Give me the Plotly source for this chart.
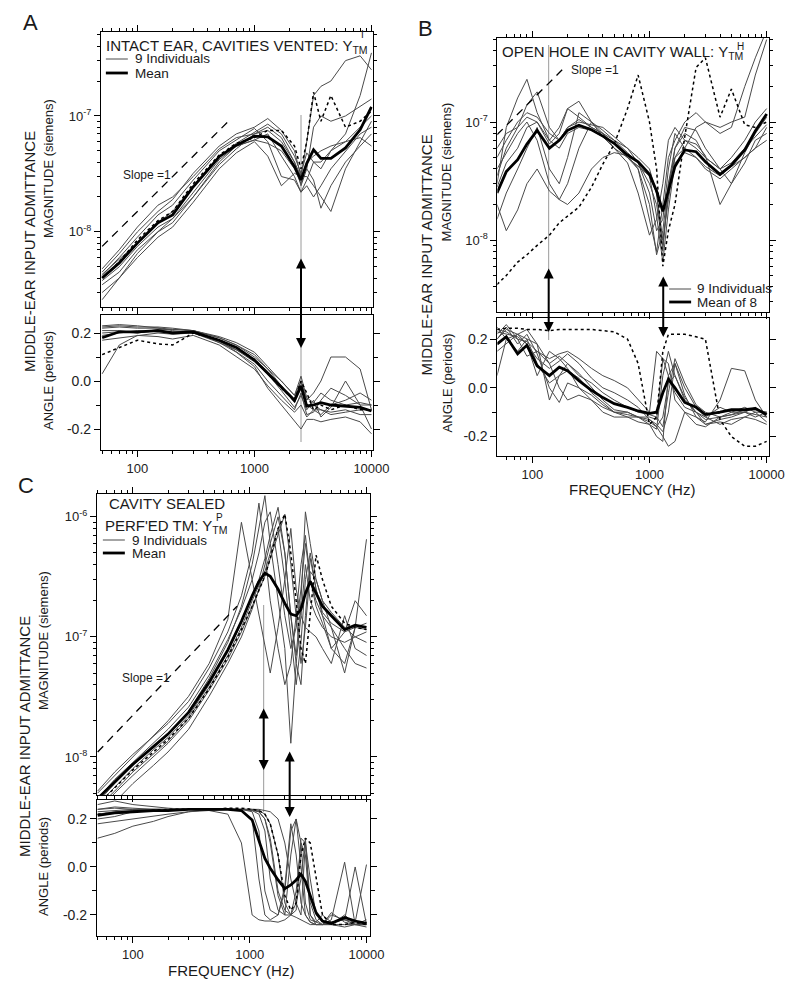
import math
import plotly.graph_objects as go

W, H = 800, 997
FONT = "Liberation Sans, Arial, Helvetica, sans-serif"

# ---------------- Panel A: intact ear, cavities vented ----------------
A_FREQ = [50, 70, 100, 150, 200, 300, 500, 700, 1000, 1300, 1700, 2200, 2500, 2800, 3200, 3700, 4500, 6000, 8000, 10000]
A_MAG_MEAN = [4.0e-9, 5.4e-9, 8.0e-9, 1.2e-8, 1.4e-8, 2.45e-8, 4.45e-8, 5.6e-8, 6.7e-8, 6.6e-8, 5.5e-8, 3.65e-8, 2.8e-8, 3.9e-8, 5.1e-8, 4.3e-8, 4.3e-8, 5.3e-8, 7.6e-8, 1.2e-7]
A_MAG_1 = [4.5e-9, 6.5e-9, 1.0e-8, 1.5e-8, 1.9e-8, 3.2e-8, 5.5e-8, 7.0e-8, 8.0e-8, 9.5e-8, 7.5e-8, 5.0e-8, 3.0e-8, 6.0e-8, 1.5e-7, 1.8e-7, 2.0e-7, 3.0e-7, 3.3e-7, 2.5e-7]
A_MAG_2 = [3.5e-9, 4.5e-9, 7.0e-9, 1.0e-8, 1.3e-8, 2.0e-8, 3.8e-8, 5.2e-8, 7.0e-8, 8.0e-8, 6.5e-8, 4.0e-8, 2.5e-8, 3.5e-8, 8.0e-8, 1.0e-7, 9.0e-8, 1.0e-7, 1.2e-7, 1.4e-7]
A_MAG_3 = [4.2e-9, 6.0e-9, 9.0e-9, 1.4e-8, 1.7e-8, 2.8e-8, 5.0e-8, 6.2e-8, 7.8e-8, 6.0e-8, 3.0e-8, 2.8e-8, 2.2e-8, 2.8e-8, 4.0e-8, 4.0e-8, 5.0e-8, 7.0e-8, 1.5e-7, 3.5e-7]
A_MAG_4 = [3.0e-9, 4.0e-9, 6.0e-9, 9.0e-9, 1.1e-8, 1.8e-8, 3.5e-8, 4.8e-8, 6.0e-8, 4.5e-8, 2.5e-8, 3.2e-8, 3.0e-8, 3.0e-8, 2.5e-8, 2.0e-8, 1.5e-8, 3.5e-8, 6.0e-8, 9.0e-8]
A_MAG_5 = [4.8e-9, 7.0e-9, 1.1e-8, 1.7e-8, 2.0e-8, 3.0e-8, 5.2e-8, 6.5e-8, 7.0e-8, 7.5e-8, 6.0e-8, 4.0e-8, 3.0e-8, 3.5e-8, 2.8e-8, 1.6e-8, 2.5e-8, 4.0e-8, 5.5e-8, 7.0e-8]
A_MAG_6 = [3.8e-9, 5.0e-9, 7.5e-9, 1.1e-8, 1.3e-8, 2.2e-8, 4.2e-8, 5.5e-8, 6.2e-8, 5.8e-8, 5.0e-8, 3.5e-8, 2.6e-8, 4.0e-8, 4.5e-8, 5.0e-8, 5.5e-8, 6.0e-8, 6.5e-8, 5.5e-8]
A_MAG_7 = [4.3e-9, 5.8e-9, 8.0e-9, 1.2e-8, 1.5e-8, 2.5e-8, 4.5e-8, 5.8e-8, 7.2e-8, 8.5e-8, 7.0e-8, 4.5e-8, 3.2e-8, 4.8e-8, 4.0e-8, 3.5e-8, 5.0e-8, 6.0e-8, 8.0e-8, 1.0e-7]
A_MAG_8 = [2.6e-9, 4.0e-9, 6.5e-9, 1.0e-8, 1.2e-8, 2.0e-8, 4.0e-8, 5.5e-8, 6.2e-8, 7.0e-8, 4.5e-8, 3.0e-8, 2.2e-8, 2.5e-8, 2.0e-8, 2.5e-8, 3.5e-8, 5.0e-8, 7.0e-8, 8.0e-8]
A_MAG_DOT = [4.0e-9, 5.5e-9, 8.5e-9, 1.25e-8, 1.5e-8, 2.6e-8, 4.6e-8, 5.8e-8, 6.5e-8, 7.5e-8, 7.5e-8, 5.5e-8, 3.5e-8, 6.0e-8, 1.6e-7, 9.0e-8, 1.5e-7, 8.0e-8, 9.0e-8, 1.1e-7]

A_ANG_MEAN = [0.18, 0.205, 0.205, 0.21, 0.2, 0.205, 0.17, 0.14, 0.0875, 0.033, -0.024, -0.08, -0.02, -0.105, -0.1, -0.09, -0.1, -0.105, -0.11, -0.125]
A_ANG_1 = [0.23, 0.235, 0.23, 0.22, 0.215, 0.21, 0.185, 0.16, 0.12, 0.06, 0.0, -0.06, 0.0, -0.08, -0.05, 0.0, 0.1, 0.1, 0.05, -0.12]
A_ANG_2 = [0.22, 0.225, 0.22, 0.22, 0.21, 0.2, 0.17, 0.12, 0.07, 0.0, -0.06, -0.12, -0.05, -0.14, -0.13, -0.08, -0.03, -0.06, -0.1, -0.1]
A_ANG_3 = [0.03, 0.15, 0.19, 0.185, 0.175, 0.19, 0.15, 0.1, 0.05, -0.02, -0.08, -0.13, -0.1, -0.15, -0.12, -0.12, -0.14, -0.13, -0.12, -0.12]
A_ANG_4 = [0.2, 0.205, 0.2, 0.215, 0.215, 0.21, 0.18, 0.15, 0.11, 0.05, -0.02, -0.09, 0.0, -0.1, -0.12, -0.14, -0.1, -0.08, -0.05, -0.08]
A_ANG_5 = [0.17, 0.18, 0.19, 0.2, 0.195, 0.2, 0.165, 0.13, 0.08, 0.03, -0.04, -0.11, -0.06, -0.12, -0.08, -0.15, -0.11, 0.0, -0.1, -0.2]
A_ANG_6 = [0.225, 0.23, 0.225, 0.225, 0.22, 0.21, 0.16, 0.12, 0.06, -0.03, -0.1, -0.17, -0.2, -0.16, -0.16, -0.17, -0.16, -0.15, -0.17, -0.22]
A_ANG_7 = [0.19, 0.2, 0.21, 0.205, 0.2, 0.21, 0.18, 0.15, 0.1, 0.05, 0.0, -0.06, 0.02, -0.07, -0.09, -0.05, -0.08, -0.1, -0.09, -0.1]
A_ANG_8 = [0.21, 0.21, 0.2, 0.21, 0.205, 0.2, 0.16, 0.13, 0.09, 0.04, -0.02, -0.09, -0.03, -0.1, -0.1, -0.12, -0.13, -0.12, -0.14, -0.14]
A_ANG_DOT = [0.11, 0.14, 0.17, 0.155, 0.15, 0.2, 0.17, 0.14, 0.09, 0.03, -0.03, -0.08, 0.0, -0.05, -0.12, -0.1, -0.12, -0.1, -0.12, -0.12]

A_SLOPE_F = [50, 630]
A_SLOPE_Y = [7.5e-9, 9.45e-8]

# ---------------- Panel B: open hole in cavity wall ----------------
B_FREQ = [50, 60, 75, 90, 110, 140, 170, 200, 250, 320, 400, 500, 650, 800, 1000, 1150, 1300, 1450, 1650, 2000, 2500, 3000, 4000, 5000, 6500, 8000, 10000]
B_MAG_MEAN = [2.5e-8, 3.8e-8, 4.8e-8, 6.5e-8, 8.5e-8, 6.0e-8, 7.0e-8, 8.5e-8, 9.4e-8, 8.6e-8, 7.6e-8, 6.6e-8, 5.25e-8, 4.6e-8, 3.6e-8, 2.6e-8, 1.75e-8, 2.6e-8, 4.2e-8, 5.8e-8, 5.6e-8, 4.6e-8, 3.6e-8, 4.3e-8, 5.8e-8, 8.4e-8, 1.17e-7]
B_MAG_1 = [3e-8, 9e-8, 1.6e-7, 2.3e-7, 1.2e-7, 7e-8, 9e-8, 1.3e-7, 1.1e-7, 9e-8, 8e-8, 7e-8, 5.5e-8, 4.5e-8, 3e-8, 2e-8, 9e-9, 2.5e-8, 6e-8, 8e-8, 7e-8, 5e-8, 4e-8, 5e-8, 7e-8, 1.0e-7, 1.3e-7]
B_MAG_2 = [5e-8, 7e-8, 1.0e-7, 1.2e-7, 1.1e-7, 8e-8, 7e-8, 9e-8, 1.0e-7, 9.5e-8, 9e-8, 7.5e-8, 6e-8, 5e-8, 4e-8, 2.5e-8, 8e-9, 3e-8, 5e-8, 6e-8, 9e-8, 1.0e-7, 9e-8, 1.0e-7, 1.1e-7, 2.5e-7, 5e-7]
B_MAG_3 = [1.5e-8, 2.5e-8, 4e-8, 6e-8, 9e-8, 4e-8, 3e-8, 5e-8, 1.2e-7, 1.0e-7, 7.5e-8, 6e-8, 5e-8, 4.2e-8, 3.5e-8, 1.6e-8, 6.5e-9, 1.8e-8, 4.5e-8, 5.5e-8, 5e-8, 4e-8, 3.3e-8, 4e-8, 5e-8, 6e-8, 9e-8]
B_MAG_4 = [2e-8, 1.2e-8, 1.8e-8, 3e-8, 4e-8, 2.6e-8, 2.2e-8, 3e-8, 6e-8, 1.0e-7, 8.5e-8, 7e-8, 6e-8, 4.5e-8, 2.5e-8, 1.2e-8, 1.5e-8, 4e-8, 8e-8, 6e-8, 5e-8, 4.2e-8, 3.5e-8, 4.2e-8, 5e-8, 6e-8, 7e-8]
B_MAG_5 = [2.8e-8, 4.5e-8, 6e-8, 9e-8, 1.0e-7, 6.5e-8, 8e-8, 1.3e-7, 1.5e-7, 1.0e-7, 8e-8, 6.5e-8, 5e-8, 4e-8, 2e-8, 7.5e-9, 1.2e-8, 3e-8, 6e-8, 9e-8, 8.5e-8, 6e-8, 4e-8, 3e-8, 4.5e-8, 7e-8, 8e-8]
B_MAG_6 = [4e-8, 5.5e-8, 8e-8, 1.0e-7, 7e-8, 3e-8, 2.2e-8, 2.0e-8, 2.5e-8, 4e-8, 5e-8, 5.5e-8, 5.2e-8, 4e-8, 1.5e-8, 8e-9, 2e-8, 5e-8, 7e-8, 1.0e-7, 1.2e-7, 1.0e-7, 8e-8, 9e-8, 2e-7, 3.5e-7, 6e-7]
B_MAG_7 = [3.5e-8, 6e-8, 9e-8, 1.4e-7, 1.8e-7, 9e-8, 7e-8, 9e-8, 1.05e-7, 9e-8, 8e-8, 6e-8, 4.5e-8, 2.5e-8, 1.1e-8, 1.5e-8, 3e-8, 7e-8, 9e-8, 7e-8, 6e-8, 5e-8, 4e-8, 4.5e-8, 6e-8, 7.5e-8, 9.5e-8]
B_MAG_8 = [6e-8, 8e-8, 9e-8, 1.1e-7, 1.0e-7, 7e-8, 6e-8, 8e-8, 9e-8, 8.5e-8, 7.5e-8, 6.5e-8, 5e-8, 4.2e-8, 3.5e-8, 2.5e-8, 1.0e-8, 2.2e-8, 5e-8, 7e-8, 6.5e-8, 5.2e-8, 2e-8, 3e-8, 5.5e-8, 8e-8, 1.1e-7]
B_MAG_DOT = [4.2e-9, 5.0e-9, 6.5e-9, 7.5e-9, 9e-9, 1.1e-8, 1.4e-8, 1.6e-8, 1.9e-8, 2.8e-8, 4.4e-8, 6.5e-8, 1.3e-7, 2.5e-7, 1.0e-7, 4e-8, 6e-9, 1.2e-8, 2e-8, 7.5e-8, 2.9e-7, 3.5e-7, 1.1e-7, 1.9e-7, 9.5e-8, 9e-8, 1.0e-7]

B_ANG_MEAN = [0.18, 0.21, 0.14, 0.175, 0.09, 0.05, 0.085, 0.07, 0.03, -0.01, -0.04, -0.065, -0.08, -0.095, -0.105, -0.1, -0.02, 0.035, 0.0, -0.06, -0.08, -0.11, -0.1, -0.09, -0.09, -0.085, -0.11]
B_ANG_1 = [0.25, 0.2, 0.15, 0.2, 0.1, 0.02, 0.05, 0.1, 0.06, 0.0, -0.05, -0.09, -0.1, -0.12, -0.15, -0.17, 0.05, 0.15, 0.05, -0.05, -0.1, -0.13, -0.12, -0.1, -0.1, -0.08, -0.12]
B_ANG_2 = [0.22, 0.26, 0.2, 0.13, 0.15, 0.12, 0.14, 0.15, 0.12, 0.08, 0.05, 0.03, 0.0, -0.05, -0.1, 0.15, 0.12, 0.05, -0.02, -0.08, -0.1, -0.12, -0.15, -0.13, -0.12, -0.1, -0.1]
B_ANG_3 = [0.05, 0.2, 0.22, 0.18, 0.05, 0.15, 0.12, 0.08, 0.0, -0.05, -0.08, -0.1, -0.12, -0.14, -0.15, -0.2, -0.22, 0.05, 0.1, -0.03, -0.12, -0.14, -0.05, 0.08, 0.07, -0.05, -0.12]
B_ANG_4 = [0.2, 0.24, 0.22, 0.2, 0.18, 0.1, 0.0, -0.05, -0.03, -0.05, -0.1, -0.12, -0.12, -0.12, -0.13, -0.16, -0.2, -0.24, -0.22, -0.1, -0.12, -0.15, -0.14, -0.15, -0.12, -0.13, -0.15]
B_ANG_5 = [0.15, 0.18, 0.22, 0.24, 0.18, -0.05, 0.05, 0.07, 0.04, -0.02, -0.06, -0.1, -0.1, -0.12, -0.12, -0.13, 0.12, 0.1, -0.05, -0.1, -0.15, -0.16, -0.12, -0.11, -0.1, -0.12, -0.1]
B_ANG_6 = [0.23, 0.22, 0.21, 0.18, 0.12, 0.08, 0.11, 0.14, 0.1, 0.04, 0.0, -0.02, -0.05, -0.08, -0.13, -0.15, -0.18, -0.1, 0.1, 0.0, -0.08, -0.12, -0.08, -0.1, -0.08, -0.1, -0.14]
B_ANG_7 = [0.2, 0.25, 0.18, 0.22, 0.14, 0.0, -0.06, 0.02, 0.0, -0.03, -0.07, -0.1, -0.11, -0.12, -0.14, -0.16, -0.12, 0.02, 0.05, -0.04, -0.1, -0.15, -0.13, -0.12, -0.1, -0.11, -0.12]
B_ANG_8 = [0.24, 0.23, 0.2, 0.19, 0.15, 0.1, 0.13, 0.1, 0.05, 0.02, -0.02, -0.05, -0.08, -0.1, -0.11, -0.12, -0.16, -0.02, 0.12, 0.02, -0.07, -0.1, -0.12, -0.11, -0.09, -0.09, -0.1]
B_ANG_DOT = [0.24, 0.245, 0.245, 0.24, 0.24, 0.235, 0.24, 0.24, 0.24, 0.24, 0.235, 0.23, 0.2, 0.1, -0.15, -0.12, 0.15, 0.22, 0.22, 0.22, 0.21, 0.2, -0.13, -0.2, -0.24, -0.24, -0.22]

B_SLOPE_F = [50, 195]
B_SLOPE_Y = [7.8e-8, 3.0e-7]

# ---------------- Panel C: cavity sealed, perforated TM ----------------
C_FREQ = [50, 70, 100, 150, 200, 300, 450, 650, 850, 1050, 1200, 1350, 1500, 1750, 2000, 2250, 2500, 2750, 3000, 3300, 3700, 4200, 5000, 6500, 8000, 10000]
C_MAG_MEAN = [4.5e-9, 6.2e-9, 8.7e-9, 1.22e-8, 1.55e-8, 2.35e-8, 4.2e-8, 7.8e-8, 1.35e-7, 2.2e-7, 2.9e-7, 3.4e-7, 3.2e-7, 2.5e-7, 1.9e-7, 1.55e-7, 1.5e-7, 1.7e-7, 2.3e-7, 2.9e-7, 2.3e-7, 1.8e-7, 1.5e-7, 1.15e-7, 1.25e-7, 1.2e-7]
C_MAG_1 = [5e-9, 7e-9, 1.0e-8, 1.5e-8, 2.0e-8, 3.2e-8, 6e-8, 1.4e-7, 9e-7, 3e-7, 1.5e-7, 8e-8, 5e-8, 1.2e-7, 3e-7, 8e-7, 2.5e-7, 1.5e-7, 1.2e-7, 1.1e-7, 1.0e-7, 8e-8, 6e-8, 1.5e-7, 8e-8, 7e-8]
C_MAG_2 = [4.2e-9, 6e-9, 8.5e-9, 1.2e-8, 1.55e-8, 2.4e-8, 4.5e-8, 9e-8, 1.8e-7, 4e-7, 8e-7, 1.5e-6, 6e-7, 2e-7, 8e-8, 1.3e-8, 6e-8, 1.5e-7, 4e-7, 2e-7, 1.5e-7, 1.2e-7, 1e-7, 9e-8, 1e-7, 1.1e-7]
C_MAG_3 = [4.5e-9, 6.5e-9, 9e-9, 1.3e-8, 1.7e-8, 2.6e-8, 4.8e-8, 9.5e-8, 1.7e-7, 3e-7, 5e-7, 9e-7, 1.1e-6, 4e-7, 1.5e-7, 8e-8, 1.2e-7, 2.5e-7, 6e-7, 3e-7, 2e-7, 1.5e-7, 1.2e-7, 5e-8, 1.2e-7, 1.3e-7]
C_MAG_4 = [4e-9, 5.6e-9, 8e-9, 1.15e-8, 1.45e-8, 2.2e-8, 4e-8, 7.5e-8, 1.3e-7, 2.2e-7, 3e-7, 4.5e-7, 7e-7, 1.2e-6, 5e-7, 1.5e-7, 6e-8, 4e-8, 1.5e-7, 4.5e-7, 2.5e-7, 1.6e-7, 1.3e-7, 1.1e-7, 1.2e-7, 1.15e-7]
C_MAG_5 = [3.5e-9, 5e-9, 7e-9, 1.0e-8, 1.3e-8, 2e-8, 3.6e-8, 6.5e-8, 1.1e-7, 1.8e-7, 2.4e-7, 3.2e-7, 4.5e-7, 7e-7, 1.05e-6, 4e-7, 1.5e-7, 6e-8, 1.2e-7, 3.5e-7, 3e-7, 2e-7, 1.6e-7, 1.2e-7, 1.0e-7, 9e-8]
C_MAG_6 = [3.0e-9, 4.2e-9, 6e-9, 8.5e-9, 1.1e-8, 1.7e-8, 3.2e-8, 6e-8, 1.0e-7, 1.7e-7, 2.5e-7, 4e-7, 6e-7, 1.0e-6, 5e-7, 1.5e-7, 7e-8, 2e-7, 1.1e-6, 6e-7, 3e-7, 2e-7, 1.2e-7, 8e-8, 6e-8, 5.5e-8]
C_MAG_7 = [5.2e-9, 7.5e-9, 1.05e-8, 1.5e-8, 1.9e-8, 2.9e-8, 5.5e-8, 1.1e-7, 2.2e-7, 5e-7, 1.3e-6, 5e-7, 2e-7, 8e-8, 4e-8, 6e-8, 1.5e-7, 4e-7, 7e-7, 3e-7, 1.8e-7, 1.3e-7, 8e-8, 1.1e-7, 2e-7, 1.5e-7]
C_MAG_8 = [3.8e-9, 5.2e-9, 7.5e-9, 1.05e-8, 1.35e-8, 2.1e-8, 3.8e-8, 7e-8, 1.2e-7, 2e-7, 2.7e-7, 3.5e-7, 5e-7, 8e-7, 3e-7, 1e-7, 4e-8, 9e-8, 3e-7, 5e-7, 2.5e-7, 1.5e-7, 8e-8, 6e-8, 1.2e-7, 6.5e-7]
C_MAG_DOT = [4e-9, 5.5e-9, 7.8e-9, 1.1e-8, 1.4e-8, 2.1e-8, 3.7e-8, 6.8e-8, 1.15e-7, 1.8e-7, 2.4e-7, 3.2e-7, 4.5e-7, 8e-7, 1.05e-6, 5e-7, 2e-7, 8e-8, 6e-8, 1.5e-7, 4.8e-7, 3e-7, 1.8e-7, 1.3e-7, 1.2e-7, 1.15e-7]

C_ANG_MEAN = [0.215, 0.225, 0.23, 0.235, 0.235, 0.24, 0.24, 0.24, 0.235, 0.196, 0.11, 0.036, -0.005, -0.054, -0.09, -0.075, -0.054, -0.03, -0.06, -0.12, -0.19, -0.225, -0.235, -0.21, -0.225, -0.235]
C_ANG_1 = [0.24, 0.245, 0.24, 0.24, 0.24, 0.24, 0.235, 0.22, 0.1, -0.2, -0.22, -0.225, -0.225, -0.23, -0.22, -0.2, -0.21, -0.22, -0.23, -0.24, -0.24, -0.24, -0.24, -0.2, -0.24, -0.24]
C_ANG_2 = [0.2, 0.21, 0.23, 0.235, 0.24, 0.24, 0.24, 0.24, 0.24, 0.23, 0.15, -0.1, -0.18, -0.2, -0.1, 0.15, 0.2, 0.0, -0.2, -0.23, -0.24, -0.24, -0.23, -0.22, -0.24, -0.24]
C_ANG_3 = [0.12, 0.14, 0.17, 0.19, 0.21, 0.23, 0.24, 0.24, 0.24, 0.235, 0.22, 0.15, -0.05, -0.18, -0.2, 0.05, 0.2, 0.1, -0.15, -0.22, -0.23, -0.24, -0.2, -0.22, 0.0, -0.24]
C_ANG_4 = [0.24, 0.25, 0.245, 0.24, 0.24, 0.24, 0.24, 0.24, 0.24, 0.24, 0.23, 0.2, 0.12, -0.1, -0.18, -0.2, -0.1, 0.1, 0.05, -0.2, -0.24, -0.24, -0.19, -0.23, -0.24, -0.23]
C_ANG_5 = [0.18, 0.19, 0.2, 0.21, 0.22, 0.23, 0.235, 0.24, 0.24, 0.24, 0.235, 0.22, 0.18, 0.05, -0.15, -0.2, -0.18, 0.12, 0.1, -0.15, -0.22, -0.24, -0.24, -0.25, -0.24, -0.24]
C_ANG_6 = [0.26, 0.275, 0.26, 0.25, 0.245, 0.24, 0.24, 0.24, 0.24, 0.24, 0.24, 0.235, 0.23, 0.2, 0.1, -0.05, -0.15, -0.2, 0.1, -0.05, -0.2, -0.23, -0.24, -0.24, -0.24, -0.25]
C_ANG_7 = [0.22, 0.23, 0.235, 0.24, 0.24, 0.24, 0.24, 0.24, 0.235, 0.2, -0.05, -0.2, -0.22, -0.2, -0.08, 0.18, 0.05, -0.15, -0.2, -0.23, -0.24, -0.24, -0.22, 0.02, -0.24, -0.22]
C_ANG_8 = [0.23, 0.235, 0.24, 0.24, 0.24, 0.24, 0.24, 0.24, 0.24, 0.235, 0.23, 0.2, 0.1, -0.12, -0.2, -0.2, -0.15, -0.05, 0.12, -0.2, -0.23, -0.2, -0.23, -0.22, -0.23, 0.01]
C_ANG_DOT = [0.22, 0.225, 0.23, 0.235, 0.24, 0.24, 0.24, 0.245, 0.245, 0.24, 0.235, 0.22, 0.18, 0.05, -0.12, -0.18, -0.15, 0.05, 0.12, 0.1, -0.05, -0.2, -0.24, -0.24, -0.23, -0.24]

C_SLOPE_F = [50, 780]
C_SLOPE_Y = [1.1e-8, 1.8e-7]

# axis tick labels
X_TICKS = [100, 1000, 10000]
X_TICKTEXT = ["100", "1000", "10000"]
ANG_TICKS = [-0.2, 0.0, 0.2]
ANG_TICKTEXT = ["-0.2", "0.0", "0.2"]

# ---------------- helpers ----------------
# The photographed page comes out ~2% narrower horizontally than the figure,
# so horizontal layout positions are expressed against an effective width.
XW = 784.0

def px(x):
    return x / XW

def py(y):
    return 1 - y / H

X_MINOR = [m * 10 ** k for k in (1, 2, 3) for m in range(2, 10) if m * 10 ** k >= 50]

def y_minor(lo, hi):
    return [m * 10.0 ** k for k in range(lo, hi) for m in range(2, 10)]

GRAY = "#4a4a4a"
fig = go.Figure()

def add_lines(xa, ya, freq, singles, dotted, mean):
    for s in singles:
        fig.add_trace(go.Scatter(x=freq, y=s, mode="lines", xaxis=xa, yaxis=ya,
                                 line=dict(color=GRAY, width=1), showlegend=False, hoverinfo="skip"))
    fig.add_trace(go.Scatter(x=freq, y=dotted, mode="lines", xaxis=xa, yaxis=ya,
                             line=dict(color="black", width=1.5, dash="3px,3px"), showlegend=False, hoverinfo="skip"))
    fig.add_trace(go.Scatter(x=freq, y=mean, mode="lines", xaxis=xa, yaxis=ya,
                             line=dict(color="black", width=2.8), showlegend=False, hoverinfo="skip"))

def add_slope(xa, ya, f, y):
    fig.add_trace(go.Scatter(x=f, y=y, mode="lines", xaxis=xa, yaxis=ya,
                             line=dict(color="black", width=1.3, dash="8px,6px"), showlegend=False, hoverinfo="skip"))

# Panel A
add_lines("x", "y", A_FREQ, [A_MAG_1, A_MAG_2, A_MAG_3, A_MAG_4, A_MAG_5, A_MAG_6, A_MAG_7, A_MAG_8], A_MAG_DOT, A_MAG_MEAN)
add_slope("x", "y", A_SLOPE_F, A_SLOPE_Y)
add_lines("x2", "y2", A_FREQ, [A_ANG_1, A_ANG_2, A_ANG_3, A_ANG_4, A_ANG_5, A_ANG_6, A_ANG_7, A_ANG_8], A_ANG_DOT, A_ANG_MEAN)
# Panel B
add_lines("x3", "y3", B_FREQ, [B_MAG_1, B_MAG_2, B_MAG_3, B_MAG_4, B_MAG_5, B_MAG_6, B_MAG_7, B_MAG_8], B_MAG_DOT, B_MAG_MEAN)
add_slope("x3", "y3", B_SLOPE_F, B_SLOPE_Y)
add_lines("x4", "y4", B_FREQ, [B_ANG_1, B_ANG_2, B_ANG_3, B_ANG_4, B_ANG_5, B_ANG_6, B_ANG_7, B_ANG_8], B_ANG_DOT, B_ANG_MEAN)
# Panel C
add_lines("x5", "y5", C_FREQ, [C_MAG_1, C_MAG_2, C_MAG_3, C_MAG_4, C_MAG_5, C_MAG_6, C_MAG_7, C_MAG_8], C_MAG_DOT, C_MAG_MEAN)
add_slope("x5", "y5", C_SLOPE_F, C_SLOPE_Y)
add_lines("x6", "y6", C_FREQ, [C_ANG_1, C_ANG_2, C_ANG_3, C_ANG_4, C_ANG_5, C_ANG_6, C_ANG_7, C_ANG_8], C_ANG_DOT, C_ANG_MEAN)

TICKFONT = dict(family=FONT, size=13, color="#222")

def xaxis(x0, x1, rng, anchor, labels):
    return dict(type="log", domain=[px(x0), px(x1)], range=rng, anchor=anchor,
                showline=True, linecolor="black", linewidth=1,
                mirror=True if labels else "ticks",
                ticks="outside", ticklen=6, tickcolor="black", tickwidth=1,
                tickvals=X_TICKS, ticktext=X_TICKTEXT, showticklabels=labels,
                tickfont=TICKFONT, showgrid=False, zeroline=False,
                minor=dict(tickvals=X_MINOR, ticks="outside", ticklen=3, tickcolor="black", showgrid=False))

def ymag(y0, y1, rng, anchor, majors, texts, mlo, mhi):
    return dict(type="log", domain=[py(y1), py(y0)], range=rng, anchor=anchor,
                showline=True, linecolor="black", linewidth=1, mirror="ticks",
                ticks="outside", ticklen=6, tickcolor="black",
                tickvals=majors, ticktext=texts, tickfont=TICKFONT,
                showgrid=False, zeroline=False,
                minor=dict(tickvals=y_minor(mlo, mhi), ticks="outside", ticklen=3, tickcolor="black", showgrid=False))

def yang(y0, y1, rng, anchor):
    return dict(domain=[py(y1), py(y0)], range=rng, anchor=anchor,
                showline=True, linecolor="black", linewidth=1, mirror="ticks",
                ticks="outside", ticklen=6, tickcolor="black",
                tickvals=ANG_TICKS, ticktext=ANG_TICKTEXT, tickfont=dict(family=FONT, size=14, color="#222"),
                showgrid=False, zeroline=False,
                minor=dict(tickvals=[-0.1, 0.1], ticks="outside", ticklen=4, tickcolor="black", showgrid=False))

fig.update_layout(
    width=W, height=H, margin=dict(l=0, r=0, t=0, b=0),
    paper_bgcolor="white", plot_bgcolor="white", showlegend=False,
    font=dict(family=FONT, color="#222"),
    xaxis=xaxis(101, 373, [1.688, 4.009], "y", False),
    yaxis=ymag(32, 307, [-8.648, -6.276], "x", [1e-8, 1e-7], ["10<sup>-8</sup>", "10<sup>-7</sup>"], -9, -6),
    xaxis2=xaxis(101, 373, [1.688, 4.009], "y2", True),
    yaxis2=yang(315, 450, [-0.2875, 0.275], "x2"),
    xaxis3=xaxis(498, 770, [1.702, 4.02], "y3", False),
    yaxis3=ymag(38, 312, [-8.61, -6.288], "x3", [1e-8, 1e-7], ["10<sup>-8</sup>", "10<sup>-7</sup>"], -9, -6),
    xaxis4=xaxis(498, 770, [1.702, 4.02], "y4", True),
    yaxis4=yang(318, 456, [-0.28, 0.287], "x4"),
    xaxis5=xaxis(97, 370, [1.692, 4.026], "y5", False),
    yaxis5=ymag(494, 795, [-8.317, -5.81], "x5", [1e-8, 1e-7, 1e-6], ["10<sup>-8</sup>", "10<sup>-7</sup>", "10<sup>-6</sup>"], -9, -5),
    xaxis6=xaxis(97, 370, [1.692, 4.026], "y6", True),
    yaxis6=yang(800, 936, [-0.2875, 0.279], "x6"),
)

# vertical marker lines (thin gray)
def vline(xref, f, ytop, ybot):
    fig.add_shape(type="line", xref=xref, yref="paper", x0=f, x1=f, y0=py(ytop), y1=py(ybot),
                  line=dict(color="#9a9a9a", width=1), layer="below")

vline("x", 2500, 115, 442)
vline("x3", 138, 45, 340)
vline("x5", 1318, 605, 812)

# double-headed arrows
def arrow(xref, f, ytop, ybot):
    fig.add_annotation(x=math.log10(f), xref=xref, y=py(ybot), yref="paper",
                       ax=0, ay=-(ybot - ytop), axref="pixel", ayref="pixel", text="",
                       showarrow=True, arrowhead=2, startarrowhead=2, arrowside="end+start",
                       arrowwidth=2, arrowsize=1, startarrowsize=1, arrowcolor="black",
                       standoff=0, startstandoff=0)

arrow("x", 2500, 257, 348)
arrow("x3", 138, 267, 332)
arrow("x3", 1310, 275, 337)
arrow("x5", 1318, 707, 770)
arrow("x5", 2200, 750, 817)

def text(x, y, s, size, anchor="left", angle=0, color="#1a1a1a"):
    fig.add_annotation(x=px(x), y=py(y), xref="paper", yref="paper", text=s, showarrow=False,
                       xanchor=anchor, yanchor="middle", textangle=angle,
                       font=dict(family=FONT, size=size, color=color))

# panel letters
text(31, 23, "A", 22, "center")
text(426, 28, "B", 22, "center")
text(26, 485, "C", 22, "center")

# titles (superscript letter stacked above the TM subscript)
text(104, 46, "INTACT EAR, CAVITIES VENTED: Y<sub>TM</sub>", 15)
text(363, 34, "I", 10, "center")
text(501, 53, "OPEN HOLE IN CAVITY WALL: Y<sub>TM</sub>", 15)
text(741, 47, "H", 10, "center")
text(107, 503, "CAVITY SEALED", 15)
text(103, 526, "PERF'ED TM: Y<sub>TM</sub>", 15)
text(220, 517, "P", 10, "center")

# legends
def legend_line(x0, x1, y, width, color):
    fig.add_shape(type="line", xref="paper", yref="paper", x0=px(x0), x1=px(x1), y0=py(y), y1=py(y),
                  line=dict(color=color, width=width))

legend_line(106, 128, 59, 1, GRAY)
text(133, 59, "9 Individuals", 13.5)
legend_line(106, 128, 73, 2.8, "black")
text(133, 73, "Mean", 13.5)

legend_line(670, 692, 289, 1, GRAY)
text(696, 289, "9 Individuals", 13.5)
legend_line(670, 692, 302, 2.8, "black")
text(696, 302, "Mean of 8", 13.5)

legend_line(103, 125, 540, 1, GRAY)
text(130, 540, "9 Individuals", 13.5)
legend_line(103, 125, 553, 2.8, "black")
text(130, 553, "Mean", 13.5)

# slope labels
text(147, 175, "Slope =1", 12, "center")
text(596, 70, "Slope =1", 12, "center")
text(146, 678, "Slope =1", 12, "center")

# axis titles
text(30, 251, "MIDDLE-EAR INPUT ADMITTANCE", 15, "center", -90)
text(48, 168, "MAGNITUDE (siemens)", 13, "center", -90)
text(48, 380, "ANGLE (periods)", 13, "center", -90)
text(427, 255, "MIDDLE-EAR INPUT ADMITTANCE", 15, "center", -90)
text(448, 172, "MAGNITUDE (siemens)", 13, "center", -90)
text(448, 383, "ANGLE (periods)", 13, "center", -90)
text(24, 736, "MIDDLE-EAR INPUT ADMITTANCE", 15, "center", -90)
text(43, 640, "MAGNITUDE (siemens)", 13, "center", -90)
text(43, 866, "ANGLE (periods)", 13, "center", -90)

text(633, 490, "FREQUENCY (Hz)", 15, "center")
text(231, 970, "FREQUENCY (Hz)", 15, "center")

# page setup: no body margin, no scrollbars, so the figure fills the window exactly
PAGE_JS = ("document.documentElement.style.margin='0';document.documentElement.style.overflow='hidden';"
           "document.body.style.margin='0';document.body.style.overflow='hidden';")
fig.write_html("out.html", config={"displayModeBar": False}, post_script=PAGE_JS)
